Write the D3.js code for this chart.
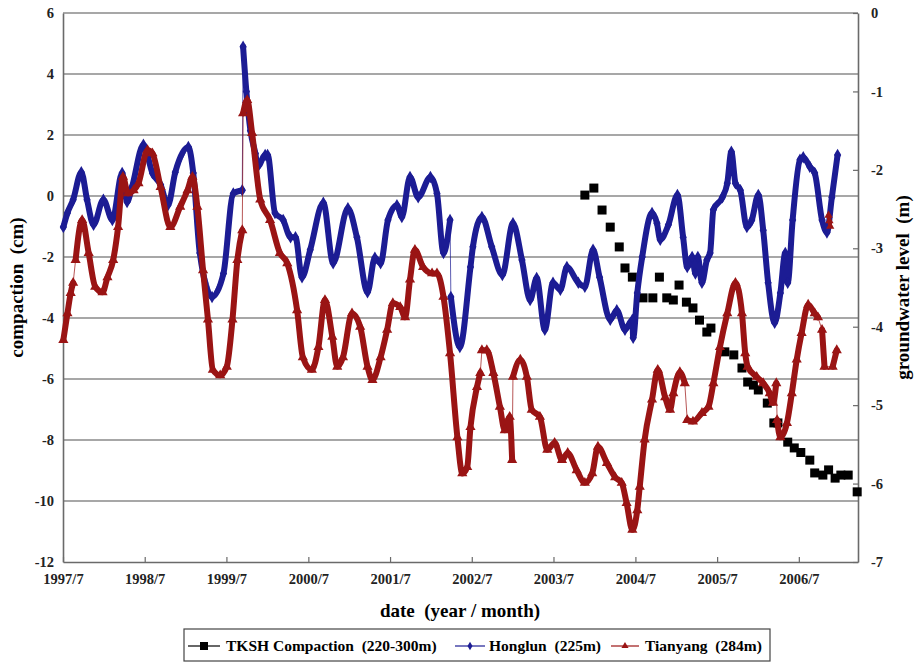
<!DOCTYPE html>
<html>
<head>
<meta charset="utf-8">
<script src="https://cdn.jsdelivr.net/npm/d3@7"></script>
<style>
  body { margin: 0; background: #fff; }
  svg { font-family: "Liberation Serif", "Times New Roman", serif; font-weight: bold; }
</style>
</head>
<body>
<svg id="chart" width="917" height="663"></svg>
<script>
// ---- data -------------------------------------------------------------
// time is given as decimal years; null splits a record into segments
// (the gap is bridged by a thin connector only)

// TKSH compaction (cm) – left axis
const tkshT = [2003.88, 2003.99, 2004.09, 2004.19, 2004.30, 2004.37, 2004.46, 2004.59, 2004.71, 2004.79,
  2004.88, 2004.96, 2005.03, 2005.12, 2005.20, 2005.28, 2005.37, 2005.42, 2005.59, 2005.70,
  2005.80, 2005.87, 2005.94, 2006.00, 2006.11, 2006.19, 2006.24, 2006.36, 2006.44, 2006.52,
  2006.63, 2006.69, 2006.79, 2006.86, 2006.94, 2007.01, 2007.10, 2007.21];
const tkshV = [0.03, 0.26, -0.46, -1.02, -1.67, -2.36, -2.66, -3.34, -3.34, -2.66,
  -3.34, -3.41, -2.92, -3.48, -3.67, -4.07, -4.46, -4.33, -5.11, -5.21,
  -5.64, -6.10, -6.20, -6.36, -6.79, -7.44, -7.44, -8.07, -8.26, -8.41,
  -8.66, -9.08, -9.15, -8.98, -9.25, -9.15, -9.15, -9.70];

// Honglun well (225 m) groundwater level (m) – right axis
const hongT = [1997.50, 1997.55, 1997.62, 1997.72, 1997.79, 1997.87, 1997.99, 1998.10, 1998.22, 1998.28,
  1998.34, 1998.48, 1998.59, 1998.69, 1998.78, 1998.87, 1999.03, 1999.09, 1999.17, 1999.32,
  1999.46, 1999.58, 1999.69, null,
  1999.70, 1999.74, 1999.79, 1999.85, 1999.88, 1999.97, 2000.00, 2000.09, 2000.19, 2000.28,
  2000.34, 2000.42, 2000.52, 2000.68, 2000.80, 2000.98, 2001.09, 2001.22, 2001.31, 2001.38,
  2001.47, 2001.58, 2001.64, 2001.74, 2001.84, 2001.99, 2002.07, 2002.15, 2002.23, null,
  2002.24, 2002.35, 2002.48, 2002.51, 2002.62, 2002.74, 2002.87, 2003.00, 2003.11, 2003.21,
  2003.29, 2003.39, 2003.49, 2003.58, 2003.66, 2003.80, 2003.88, 2003.98, 2004.06, 2004.19,
  2004.27, 2004.37, 2004.46, 2004.47, 2004.52, 2004.58, 2004.70, 2004.76, 2004.80, 2004.90,
  2005.01, 2005.08, 2005.13, 2005.19, 2005.23, 2005.26, 2005.31, 2005.37, 2005.41, 2005.45,
  2005.56, 2005.62, 2005.67, 2005.72, 2005.78, 2005.86, 2005.92, 2006.00, 2006.06, 2006.12,
  2006.20, 2006.27, 2006.33, 2006.36, 2006.42, 2006.51, 2006.55, 2006.63, 2006.69, 2006.78,
  2006.84, 2006.90, 2006.97];
const hongV = [-2.73, -2.55, -2.38, -2.03, -2.38, -2.70, -2.38, -2.64, -2.04, -2.41,
  -2.22, -1.68, -2.04, -2.19, -2.45, -2.03, -1.71, -2.04, -3.06, -3.62,
  -3.32, -2.30, -2.26, null,
  -0.43, -1.00, -1.50, -1.79, -1.96, -1.81, -1.81, -2.55, -2.64, -2.86,
  -2.86, -3.37, -3.02, -2.42, -3.19, -2.49, -2.86, -3.56, -3.12, -3.19,
  -2.64, -2.45, -2.60, -2.09, -2.35, -2.09, -2.30, -3.06, -2.64, null,
  -3.62, -4.26, -3.24, -2.98, -2.60, -2.98, -3.34, -2.68, -3.15, -3.66,
  -3.38, -4.04, -3.44, -3.53, -3.24, -3.44, -3.49, -3.02, -3.37, -3.91,
  -3.79, -4.04, -3.91, -4.14, -3.57, -3.11, -2.55, -2.68, -2.89, -2.70,
  -2.32, -2.86, -3.24, -3.11, -3.32, -3.11, -3.44, -3.15, -3.06, -2.51,
  -2.35, -2.17, -1.77, -2.17, -2.26, -2.73, -2.64, -2.32, -2.77, -3.44,
  -3.95, -3.57, -3.06, -3.44, -2.64, -1.87, -1.84, -1.96, -2.04, -2.64,
  -2.80, -2.35, -1.81];

// Tianyang well (284 m) groundwater level (m) – right axis
const tianT = [1997.50, 1997.55, 1997.59, 1997.62, null,
  1997.65, 1997.73, 1997.81, 1997.89, 1997.98, 1998.04, 1998.11, 1998.17, 1998.23, 1998.29,
  1998.36, 1998.42, 1998.53, 1998.59, 1998.69, 1998.81, 1998.93, 1999.02, 1999.08, 1999.14,
  1999.21, 1999.27, 1999.33, 1999.42, 1999.50, 1999.57, 1999.63, 1999.69, null,
  1999.70, 1999.75, 1999.81, 1999.91, 2000.03, 2000.15, 2000.24, 2000.36, 2000.43, 2000.54,
  2000.62, 2000.70, 2000.79, 2000.85, 2000.92, 2001.03, 2001.13, 2001.22, 2001.28, 2001.38,
  2001.46, 2001.53, 2001.62, 2001.68, 2001.74, 2001.80, 2001.90, 2002.01, 2002.07, 2002.15,
  2002.23, 2002.32, 2002.38, 2002.44, 2002.48, 2002.56, 2002.60, null,
  2002.62, 2002.68, 2002.76, 2002.84, 2002.90, 2002.96, 2002.99, null,
  2003.00, 2003.09, 2003.17, 2003.23, 2003.33, 2003.42, 2003.51, 2003.60, 2003.67, 2003.78,
  2003.88, 2003.97, 2004.04, 2004.15, 2004.25, 2004.33, 2004.39, 2004.46, 2004.52, 2004.55,
  2004.61, 2004.70, 2004.77, 2004.86, 2004.92, 2004.96, 2005.04, 2005.10, null,
  2005.13, 2005.20, 2005.31, 2005.39, 2005.45, 2005.53, 2005.62, 2005.72, 2005.80, 2005.84,
  2005.87, 2005.98, 2006.06, 2006.14, 2006.18, 2006.22, null,
  2006.23, 2006.27, 2006.35, 2006.41, 2006.47, 2006.53, 2006.61, 2006.69, 2006.73, null,
  2006.78, 2006.81, null,
  2006.91, 2006.96];
const tianV = [-4.17, -3.83, -3.57, -3.44, null,
  -3.15, -2.64, -3.06, -3.49, -3.56, -3.37, -3.15, -2.73, -2.09, -2.30,
  -2.26, -2.17, -1.75, -1.79, -2.22, -2.73, -2.47, -2.26, -2.09, -2.47,
  -3.28, -3.91, -4.55, -4.62, -4.51, -3.91, -3.15, -2.77, null,
  -1.28, -1.11, -1.53, -2.38, -2.64, -3.06, -3.19, -3.79, -4.39, -4.55,
  -4.26, -3.66, -4.13, -4.51, -4.39, -3.83, -4.00, -4.51, -4.68, -4.39,
  -4.04, -3.70, -3.75, -3.88, -3.40, -3.02, -3.24, -3.32, -3.32, -3.62,
  -4.34, -5.41, -5.87, -5.79, -5.28, -4.77, -4.59, null,
  -4.30, -4.30, -4.59, -5.02, -5.32, -5.15, -5.70, null,
  -4.64, -4.42, -4.64, -5.06, -5.15, -5.57, -5.48, -5.70, -5.61, -5.83,
  -5.99, -5.87, -5.53, -5.74, -5.92, -5.99, -6.25, -6.59, -6.34, -6.04,
  -5.44, -4.93, -4.55, -4.90, -5.06, -4.85, -4.58, -4.72, null,
  -5.19, -5.21, -5.10, -5.02, -4.72, -4.26, -3.83, -3.44, -3.83, -4.34,
  -4.51, -4.64, -4.72, -4.85, -4.97, -4.72, null,
  -5.19, -5.41, -5.23, -4.85, -4.42, -4.08, -3.72, -3.83, -3.88, null,
  -4.04, -4.51, null,
  -4.51, -4.30];
// a few isolated Tianyang readings in late 2006
const tianStrayT = [2006.86, 2006.87, 2006.88];
const tianStrayV = [-2.58, -2.65, -2.72];

// axes
const xTickLabels = ["1997/7", "1998/7", "1999/7", "2000/7", "2001/7", "2002/7", "2003/7", "2004/7", "2005/7", "2006/7"];
const xEnd = 2007.22;
const leftTicks = [-12, -10, -8, -6, -4, -2, 0, 2, 4, 6];
const rightTicks = [-7, -6, -5, -4, -3, -2, -1, 0];

const legendLabels = ["TKSH Compaction  (220-300m)", "Honglun  (225m)", "Tianyang  (284m)"];

// ---- helpers ----------------------------------------------------------
function yearToDate(y) {
  const yr = Math.floor(y);
  const a = new Date(yr, 0, 1).getTime(), b = new Date(yr + 1, 0, 1).getTime();
  return new Date(a + (y - yr) * (b - a));
}
function parseTick(s) {
  const [y, m] = s.split("/").map(Number);
  return new Date(y, m - 1, 1);
}
function records(ts, vs) {
  return ts.map((t, i) => t === null ? null : { date: yearToDate(t), value: vs[i] });
}
const plainNumber = d => String(d);   // keeps an ASCII hyphen for negatives

// ---- layout -----------------------------------------------------------
const L = 63, R = 858, T = 13, B = 562;
const svg = d3.select("#chart");

const x = d3.scaleTime()
  .domain([parseTick(xTickLabels[0]), yearToDate(xEnd)])
  .range([L, R]);
const yLeft = d3.scaleLinear().domain([-12, 6]).range([B, T]);
const yRight = d3.scaleLinear().domain([-7, 0]).range([B, T]);

const GRID = "#8a8a8a", AXIS = "#6a6a6a";
const BLUE = "#1c1c94", RED = "#9a1414";

// horizontal gridlines on the compaction scale
svg.append("g")
  .selectAll("line")
  .data(leftTicks.filter(d => d > -12))
  .join("line")
  .attr("x1", L).attr("x2", R)
  .attr("y1", d => yLeft(d)).attr("y2", d => yLeft(d))
  .attr("stroke", GRID).attr("stroke-width", 1.5);

function styleTickText(g) {
  g.selectAll("text")
    .attr("font-size", 14.5)
    .attr("font-family", "Liberation Serif")
    .attr("font-weight", "bold")
    .attr("fill", "#222");
}

// left axis
const axL = svg.append("g")
  .attr("transform", `translate(${L},0)`)
  .call(d3.axisLeft(yLeft).tickValues(leftTicks).tickSize(0).tickPadding(9).tickFormat(plainNumber));
axL.select(".domain").attr("stroke", AXIS).attr("stroke-width", 1.6);
styleTickText(axL);

// right axis with inward ticks
const axR = svg.append("g")
  .attr("transform", `translate(${R},0)`)
  .call(d3.axisRight(yRight).tickValues(rightTicks).tickSizeInner(-5).tickSizeOuter(0).tickPadding(13).tickFormat(plainNumber));
axR.select(".domain").attr("stroke", AXIS).attr("stroke-width", 1.6);
axR.selectAll(".tick line").attr("stroke", AXIS).attr("stroke-width", 1.2);
styleTickText(axR);

// bottom axis with inward ticks
const axB = svg.append("g")
  .attr("transform", `translate(0,${B})`)
  .call(d3.axisBottom(x).tickValues(xTickLabels.map(parseTick)).tickSizeInner(-5).tickSizeOuter(0).tickPadding(12)
    .tickFormat(d3.timeFormat("%Y/%-m")));
axB.select(".domain").attr("stroke", AXIS).attr("stroke-width", 1.6);
axB.selectAll(".tick line").attr("stroke", AXIS).attr("stroke-width", 1.2);
styleTickText(axB);

// ---- series -----------------------------------------------------------
function drawRecord(recs, yScale, color, symbolType, symbolSize, bandWidth, connect) {
  const g = svg.append("g");
  const pts = recs.filter(d => d);
  // thin connector through every reading
  if (connect) {
    g.append("path")
      .attr("d", d3.line().x(d => x(d.date)).y(d => yScale(d.value))(pts))
      .attr("fill", "none").attr("stroke", color).attr("stroke-width", 0.9).attr("opacity", 0.8);
  }
  // dense marker band for each continuous segment
  g.append("path")
    .attr("d", d3.line().defined(d => d !== null).curve(d3.curveMonotoneX)
      .x(d => x(d.date)).y(d => yScale(d.value))(recs))
    .attr("fill", "none").attr("stroke", color).attr("stroke-width", bandWidth)
    .attr("stroke-linejoin", "round").attr("stroke-linecap", "round");
  g.selectAll("path.m")
    .data(pts)
    .join("path")
    .attr("class", "m")
    .attr("transform", d => `translate(${x(d.date)},${yScale(d.value)})`)
    .attr("d", d3.symbol().type(symbolType).size(symbolSize))
    .attr("fill", color);
}

// TKSH compaction – square markers only
svg.append("g")
  .selectAll("rect")
  .data(records(tkshT, tkshV))
  .join("rect")
  .attr("x", d => x(d.date) - 4.5)
  .attr("y", d => yLeft(d.value) - 4.5)
  .attr("width", 9).attr("height", 9)
  .attr("fill", "#000");

drawRecord(records(hongT, hongV), yRight, BLUE, d3.symbolDiamond, 45, 6, true);
drawRecord(records(tianT, tianV), yRight, RED, d3.symbolTriangle, 45, 6, true);
drawRecord(records(tianStrayT, tianStrayV), yRight, RED, d3.symbolTriangle, 30, 4, false);

// ---- titles -----------------------------------------------------------
svg.append("text")
  .attr("transform", `translate(23,${(T + B) / 2}) rotate(-90)`)
  .attr("text-anchor", "middle").attr("font-size", 19)
  .style("white-space", "pre")
  .text("compaction  (cm)");

svg.append("text")
  .attr("transform", `translate(909,${(T + B) / 2}) rotate(-90)`)
  .attr("text-anchor", "middle").attr("font-size", 19)
  .style("white-space", "pre")
  .text("groundwater level  (m)");

svg.append("text")
  .attr("x", 460).attr("y", 617)
  .attr("text-anchor", "middle").attr("font-size", 19)
  .style("white-space", "pre")
  .text("date  (year / month)");

// ---- legend -----------------------------------------------------------
const lg = svg.append("g");
lg.append("rect")
  .attr("x", 184).attr("y", 629).attr("width", 586).attr("height", 32)
  .attr("fill", "#fff").attr("stroke", "#444").attr("stroke-width", 1.2);

const legendItems = [
  { x: 188, w: 32, tx: 226, color: "#000", kind: "square" },
  { x: 455, w: 30, tx: 489, color: BLUE, kind: d3.symbolDiamond },
  { x: 611, w: 28, tx: 645, color: RED, kind: d3.symbolTriangle }
];
const ly = 646;
legendItems.forEach((it, i) => {
  lg.append("line")
    .attr("x1", it.x).attr("x2", it.x + it.w).attr("y1", ly).attr("y2", ly)
    .attr("stroke", it.color).attr("stroke-width", 1.2);
  const cx = it.x + it.w / 2;
  if (it.kind === "square") {
    lg.append("rect").attr("x", cx - 4).attr("y", ly - 4).attr("width", 8).attr("height", 8).attr("fill", it.color);
  } else {
    lg.append("path").attr("transform", `translate(${cx},${ly})`)
      .attr("d", d3.symbol().type(it.kind).size(22)).attr("fill", it.color);
  }
  lg.append("text")
    .attr("x", it.tx).attr("y", ly + 5)
    .attr("font-size", 15.5)
    .style("white-space", "pre")
    .text(legendLabels[i]);
});
</script>
</body>
</html>
